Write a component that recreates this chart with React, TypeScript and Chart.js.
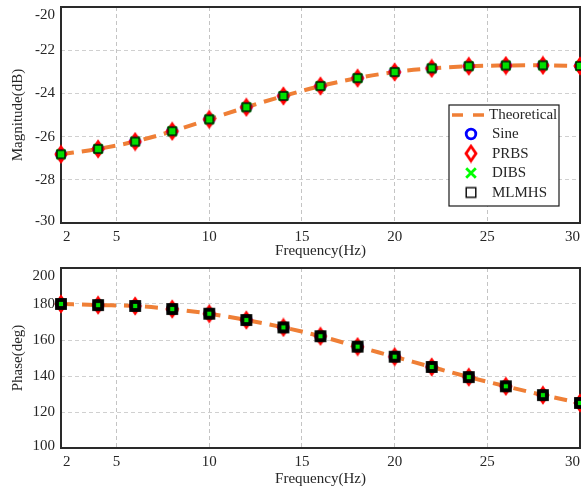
import React, { useEffect, useRef } from "react";
import { Chart, registerables } from "chart.js";

Chart.register(...registerables);

// ---------- data ----------
const freqs = [2, 4, 6, 8, 10, 12, 14, 16, 18, 20, 22, 24, 26, 28, 30];
const magnitudeDb = [-26.82, -26.57, -26.23, -25.75, -25.2, -24.64, -24.12, -23.66, -23.29, -23.01, -22.84, -22.74, -22.71, -22.7, -22.73];
const phaseDeg = [180, 179.4, 178.9, 177.2, 174.6, 171.1, 167, 162.1, 156.3, 150.7, 145, 139.4, 134.3, 129.4, 125];
const xTicks = [2, 5, 10, 15, 20, 25, 30];
const xTickLabels = ["2", "5", "10", "15", "20", "25", "30"];
const magTicks = [-30, -28, -26, -24, -22, -20];
const phaseTicks = [100, 120, 140, 160, 180, 200];
const seriesNames = ["Theoretical", "Sine", "PRBS", "DIBS", "MLMHS"];

const FONT = '"Liberation Serif", "DejaVu Serif", serif';
const ORANGE = "#EF7F36";
const TEXT = "#262626";

// ---------- marker images ----------
function makeCanvas(w: number, h: number, draw: (c: CanvasRenderingContext2D) => void) {
  const cv = document.createElement("canvas");
  cv.width = w;
  cv.height = h;
  const c = cv.getContext("2d")!;
  draw(c);
  return cv;
}
const circleMarker = (r: number) =>
  makeCanvas(16, 16, (c) => {
    c.strokeStyle = "#0000FF";
    c.lineWidth = 2.8;
    c.beginPath();
    c.arc(8, 8, r, 0, Math.PI * 2);
    c.stroke();
  });
const diamondMarker = () =>
  makeCanvas(16, 20, (c) => {
    c.strokeStyle = "#FF0000";
    c.lineWidth = 2.8;
    c.lineJoin = "miter";
    c.beginPath();
    c.moveTo(8, 2.8);
    c.lineTo(13, 10);
    c.lineTo(8, 17.2);
    c.lineTo(3, 10);
    c.closePath();
    c.stroke();
  });
const crossMarker = (half: number) =>
  makeCanvas(16, 16, (c) => {
    c.strokeStyle = "#00FF00";
    c.lineWidth = 2.8;
    c.beginPath();
    c.moveTo(8 - half, 8 - half);
    c.lineTo(8 + half, 8 + half);
    c.moveTo(8 + half, 8 - half);
    c.lineTo(8 - half, 8 + half);
    c.stroke();
  });
const squareMarker = (half: number, lw: number, fill: string | null) =>
  makeCanvas(16, 16, (c) => {
    if (fill) {
      c.fillStyle = fill;
      c.fillRect(8 - half, 8 - half, half * 2, half * 2);
    }
    c.strokeStyle = "#000000";
    c.lineWidth = lw;
    c.strokeRect(8 - half, 8 - half, half * 2, half * 2);
  });

// ---------- plugins ----------
const framePlugin = {
  id: "frame",
  beforeDatasetsDraw(chart: any) {
    const { ctx, chartArea: a } = chart;
    ctx.save();
    ctx.strokeStyle = "#2a2a2a";
    ctx.lineWidth = 2;
    ctx.strokeRect(a.left, a.top, a.right - a.left, a.bottom - a.top);
    ctx.restore();
  },
};

const tickLabelPlugin = {
  id: "tickLabels",
  afterDraw(chart: any) {
    const { ctx, chartArea: a, scales } = chart;
    ctx.save();
    ctx.font = `15px ${FONT}`;
    ctx.fillStyle = TEXT;
    ctx.textBaseline = "middle";
    ctx.textAlign = "center";
    xTicks.forEach((v, i) => {
      const label = xTickLabels[i];
      const w = ctx.measureText(label).width;
      let px = scales.x.getPixelForValue(v);
      px = Math.min(Math.max(px, a.left + w / 2 + 2), a.right - w / 2);
      ctx.fillText(label, px, a.bottom + 14);
    });
    ctx.textAlign = "right";
    const yt: number[] = chart.options.plugins.tickLabels.values;
    yt.forEach((v) => {
      let py = scales.y.getPixelForValue(v);
      py = Math.min(Math.max(py, a.top + 8.5), a.bottom - 2);
      ctx.fillText(String(v), a.left - 6, py);
    });
    ctx.restore();
  },
};

const legendPlugin = {
  id: "boxLegend",
  afterDraw(chart: any) {
    const opts = chart.options.plugins.boxLegend;
    if (!opts || !opts.show) return;
    const { ctx, chartArea: a } = chart;
    const right = a.right - 21;
    const bottom = a.bottom - 17;
    const w = 110;
    const h = 101;
    const left = right - w;
    const top = bottom - h;
    ctx.save();
    ctx.fillStyle = "#ffffff";
    ctx.fillRect(left, top, w, h);
    ctx.strokeStyle = "#1a1a1a";
    ctx.lineWidth = 1.2;
    ctx.strokeRect(left, top, w, h);
    const rows = [top + 10, top + 29, top + 48.5, top + 68, top + 87.5];
    ctx.strokeStyle = ORANGE;
    ctx.lineWidth = 3.5;
    ctx.setLineDash([11, 10]);
    ctx.beginPath();
    ctx.moveTo(left + 3, rows[0]);
    ctx.lineTo(left + 37, rows[0]);
    ctx.stroke();
    ctx.setLineDash([]);
    const mx = left + 22;
    const imgs: HTMLCanvasElement[] = opts.images;
    imgs.forEach((img, i) => {
      ctx.drawImage(img, mx - img.width / 2, rows[i + 1] - img.height / 2);
    });
    ctx.fillStyle = TEXT;
    ctx.font = `15px ${FONT}`;
    ctx.textBaseline = "middle";
    ctx.textAlign = "left";
    seriesNames.forEach((name, i) => {
      ctx.fillText(name, i === 0 ? left + 40 : left + 43, rows[i] + 0.5);
    });
    ctx.restore();
  },
};

function buildConfig(opts: {
  values: number[];
  yMin: number;
  yMax: number;
  yStep: number;
  yTicks: number[];
  yTitle: string;
  padTop: number;
  xHeight: number;
  xTitlePad: number;
  square: HTMLCanvasElement;
  legend: boolean;
}): any {
  const pts = (vals: number[]) => freqs.map((f, i) => ({ x: f, y: vals[i] }));
  const markerDs = (label: string, img: HTMLCanvasElement, order: number) => ({
    label,
    data: pts(opts.values),
    showLine: false,
    pointStyle: img,
    pointRadius: 6,
    clip: false,
    order,
  });
  return {
    type: "line",
    data: {
      datasets: [
        {
          label: seriesNames[0],
          data: pts(opts.values),
          borderColor: ORANGE,
          borderWidth: 4,
          borderDash: [13, 8],
          pointRadius: 0,
          cubicInterpolationMode: "monotone",
          fill: false,
          clip: false,
          order: 5,
        },
        markerDs(seriesNames[1], circleMarker(4.6), 4),
        markerDs(seriesNames[2], diamondMarker(), 3),
        markerDs(seriesNames[3], crossMarker(4.4), 2),
        markerDs(seriesNames[4], opts.square, 1),
      ],
    },
    options: {
      responsive: false,
      animation: false,
      events: [],
      layout: { padding: { top: opts.padTop, right: 1, left: 0, bottom: 0 }, autoPadding: false },
      plugins: {
        legend: { display: false },
        tooltip: { enabled: false },
        tickLabels: { values: opts.yTicks },
        boxLegend: {
          show: opts.legend,
          images: [circleMarker(4.8), diamondMarker(), crossMarker(4.8), squareMarker(4.8, 1.4, null)],
        },
      },
      scales: {
        x: {
          type: "linear",
          min: 2,
          max: 30,
          afterBuildTicks: (s: any) => {
            s.ticks = xTicks.map((v) => ({ value: v }));
          },
          afterFit: (s: any) => {
            s.height = opts.xHeight;
          },
          ticks: { display: false },
          grid: { color: "#c4c4c4", lineWidth: 1, drawTicks: false },
          border: { display: false, dash: [4, 3] },
          title: {
            display: true,
            text: "Frequency(Hz)",
            color: TEXT,
            font: { family: FONT, size: 15, lineHeight: 1.2 },
            padding: { top: 0, bottom: opts.xTitlePad },
          },
        },
        y: {
          type: "linear",
          min: opts.yMin,
          max: opts.yMax,
          ticks: { display: false, stepSize: opts.yStep },
          afterFit: (s: any) => {
            s.width = 61;
          },
          grid: { color: "#d0d0d0", lineWidth: 1, drawTicks: false },
          border: { display: false, dash: [4, 3] },
          title: {
            display: true,
            text: opts.yTitle,
            color: TEXT,
            font: { family: FONT, size: 15, lineHeight: 1.2 },
            padding: { top: 9, bottom: 0 },
          },
        },
      },
    },
    plugins: [framePlugin, tickLabelPlugin, legendPlugin],
  };
}

export default function App() {
  const topRef = useRef<HTMLCanvasElement>(null);
  const botRef = useRef<HTMLCanvasElement>(null);

  useEffect(() => {
    const c1 = new Chart(
      topRef.current!,
      buildConfig({
        values: magnitudeDb,
        yMin: -30,
        yMax: -20,
        yStep: 2,
        yTicks: magTicks,
        yTitle: "Magnitude(dB)",
        padTop: 7,
        xHeight: 37,
        xTitlePad: 0,
        square: squareMarker(4, 1.3, "#00E000"),
        legend: true,
      })
    );
    const c2 = new Chart(
      botRef.current!,
      buildConfig({
        values: phaseDeg,
        yMin: 100,
        yMax: 200,
        yStep: 20,
        yTicks: phaseTicks,
        yTitle: "Phase(deg)",
        padTop: 8,
        xHeight: 44,
        xTitlePad: 4,
        square: squareMarker(4, 3.8, "#00E000"),
        legend: false,
      })
    );
    return () => {
      c1.destroy();
      c2.destroy();
    };
  }, []);

  return (
    <div style={{ position: "absolute", left: 0, top: 0, width: 581, height: 492, background: "#fff" }}>
      <canvas ref={topRef} width={581} height={260} style={{ position: "absolute", left: 0, top: 0 }} />
      <canvas ref={botRef} width={581} height={232} style={{ position: "absolute", left: 0, top: 260 }} />
    </div>
  );
}
